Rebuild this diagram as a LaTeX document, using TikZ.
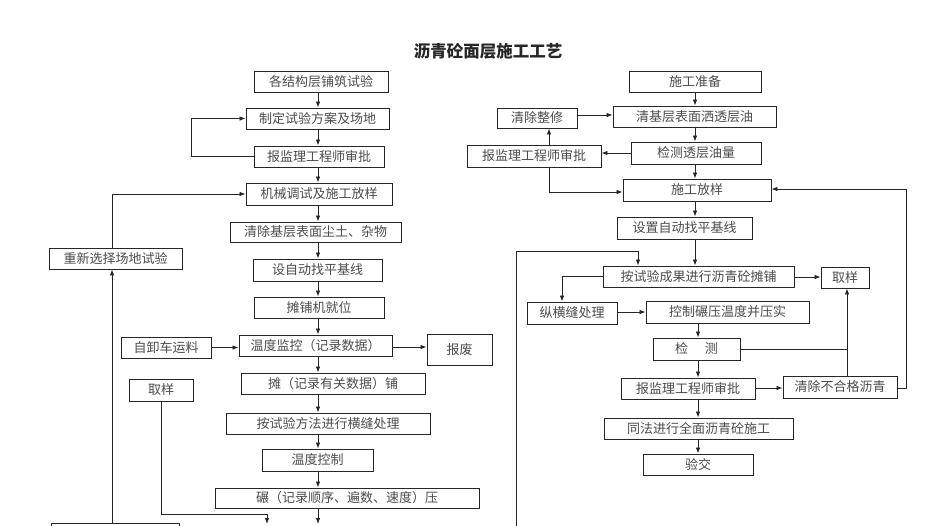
\documentclass[tikz,border=0pt]{standalone}
\usepackage{fontspec}
\setmainfont{Noto Sans CJK SC}
\usetikzlibrary{arrows.meta}
\begin{document}
\begin{tikzpicture}[x=1pt,y=-1pt,
  box/.style={draw=black!85, line width=0.9pt, fill=white, inner sep=0pt, text=black!70, font=\fontsize{13}{14}\selectfont},
  bx/.style 2 args={box, minimum width=#1, minimum height=#2},
  ln/.style={draw=black!85, line width=0.8pt},
  arr/.style={ln, -{Latex[length=6pt,width=4.5pt]}}]
\useasboundingbox (0,0) rectangle (947,525);
\clip (0,0) rectangle (947,525);

\node[font=\fontsize{16.5}{18}\selectfont\bfseries, text=black!85, inner sep=0pt] (title) at (488,51) {沥青砼面层施工工艺};

% left main column
\node[bx={134pt}{21pt}] (a1) at (321,81.5) {各结构层铺筑试验};
\node[bx={143pt}{21pt}] (a2) at (317.5,118.5) {制定试验方案及场地};
\node[bx={130pt}{21pt}] (a3) at (319,156.5) {报监理工程师审批};
\node[bx={146pt}{22pt}] (a4) at (319,194) {机械调试及施工放样};
\node[bx={171pt}{20pt}] (a5) at (315.5,232) {清除基层表面尘土、杂物};
\node[bx={129pt}{22pt}] (a6) at (317.5,270) {设自动找平基线};
\node[bx={130pt}{21pt}] (a7) at (319,307.5) {摊铺机就位};
\node[bx={153pt}{21pt}] (a8) at (315.5,345.5) {温度监控（记录数据）};
\node[bx={184pt}{21pt}] (a9) at (333,383.5) {摊（记录有关数据）铺};
\node[bx={204pt}{21pt}] (a10) at (328,423.5) {按试验方法进行横缝处理};
\node[bx={111pt}{22pt}] (a11) at (317.5,460) {温度控制};
\node[bx={264pt}{20pt}] (a12) at (347,498) {碾（记录顺序、遍数、速度）压};

% left side boxes
\node[bx={133pt}{21pt}] (b1) at (115.5,258.5) {重新选择场地试验};
\node[bx={90pt}{21pt}] (b2) at (166,347.5) {自卸车运料};
\node[bx={65pt}{31pt}] (b3) at (459.5,349.5) {报废};
\node[bx={64pt}{22pt}] (b4) at (161,390) {取样};
\node[bx={128pt}{22pt}] (b5) at (115,534) {};

\coordinate (mx) at (318,0);
\coordinate (e1) at (318,524);
\coordinate (e2) at (267,524);

% left main arrows
\foreach \u/\v in {a1/a2,a2/a3,a3/a4,a4/a5,a5/a6,a6/a7,a7/a8,a8/a9,a9/a10,a10/a11,a11/a12}
  \draw[arr] (\u.south -| mx) -- (\v.north -| mx);
\draw[arr] (a12.south -| mx) -- (e1);

% left loops
\draw[arr] (a3.west) -- ++(-62,0) |- (a2.west);
\draw[arr] (b1.north -| 112,0) |- (a4.west);
\draw[arr] (b5.north -| 112,0) -- (b1.south -| 112,0);
\draw[arr] (b2.east) -- (b2.east -| a8.west);
\draw[arr] (a8.east |- 0,347) -- (b3.west |- 0,347);
\draw[arr] (b4.south) -- (161,514) -| (e2);

% right main column
\node[bx={132pt}{21pt}] (c1) at (695,81.5) {施工准备};
\node[bx={163pt}{21pt}] (c2) at (694.5,116.5) {清基层表面洒透层油};
\node[bx={130pt}{22pt}] (c3) at (696,153) {检测透层油量};
\node[bx={148pt}{22pt}] (c4) at (697,190) {施工放样};
\node[bx={135pt}{22pt}] (c5) at (684.5,228) {设置自动找平基线};
\node[bx={191pt}{21pt}] (c6) at (698.5,276.5) {按试验成果进行沥青砼摊铺};
\node[bx={163pt}{22pt}] (c7) at (727.5,312) {控制碾压温度并压实};
\node[bx={87pt}{22pt}] (c8) at (696.5,349) {检\hspace{1.3em}测};
\node[bx={134pt}{21pt}] (c9) at (688,388.5) {报监理工程师审批};
\node[bx={189pt}{21pt}] (c10) at (698.5,428.5) {同法进行全面沥青砼施工};
\node[bx={110pt}{21pt}] (c11) at (698,464.5) {验交};

% right side boxes
\node[bx={80pt}{20pt}] (d1) at (537,118) {清除整修};
\node[bx={134pt}{22pt}] (d2) at (534,156) {报监理工程师审批};
\node[bx={48pt}{21pt}] (d3) at (845,277.5) {取样};
\node[bx={90pt}{22pt}] (d4) at (572,313) {纵横缝处理};
\node[bx={114pt}{22pt}] (d5) at (840,387) {清除不合格沥青};

\coordinate (my) at (695,0);
\coordinate (mz) at (698,0);
\coordinate (r0) at (516,530);

\foreach \u/\v in {c1/c2,c2/c3,c3/c4,c4/c5,c5/c6}
  \draw[arr] (\u.south -| my) -- (\v.north -| my);
\foreach \u/\v in {c7/c8,c8/c9,c9/c10,c10/c11}
  \draw[arr] (\u.south -| mz) -- (\v.north -| mz);

\draw[arr] (d1.east |- 0,115) -- (c2.west |- 0,115);
\draw[arr] (c3.west) -- (d2.east |- c3.west);
\draw[arr] (d2.north -| 549,0) -- (d1.south -| 549,0);
\draw[arr] (d2.south -| 549,0) |- (c4.west |- 0,192);
\draw[arr] (c6.west) -| (d4.north -| 562,0);
\draw[arr] (d4.east |- 0,312) -- (c7.west |- 0,312);
\draw[arr] (c6.east |- 0,277) -- (d3.west |- 0,277);
\draw[ln] (c8.east) -- (847,349);
\draw[arr] (d5.north -| 847,0) -- (d3.south -| 847,0);
\draw[arr] (c9.east |- 0,388) -- (d5.west |- 0,388);
\draw[arr] (d5.east |- 0,388) -- (906,388) |- (c4.east |- 0,189);
\draw[arr] (r0) |- (638,251) -- (c6.north -| 638,0);
\end{tikzpicture}
\end{document}
